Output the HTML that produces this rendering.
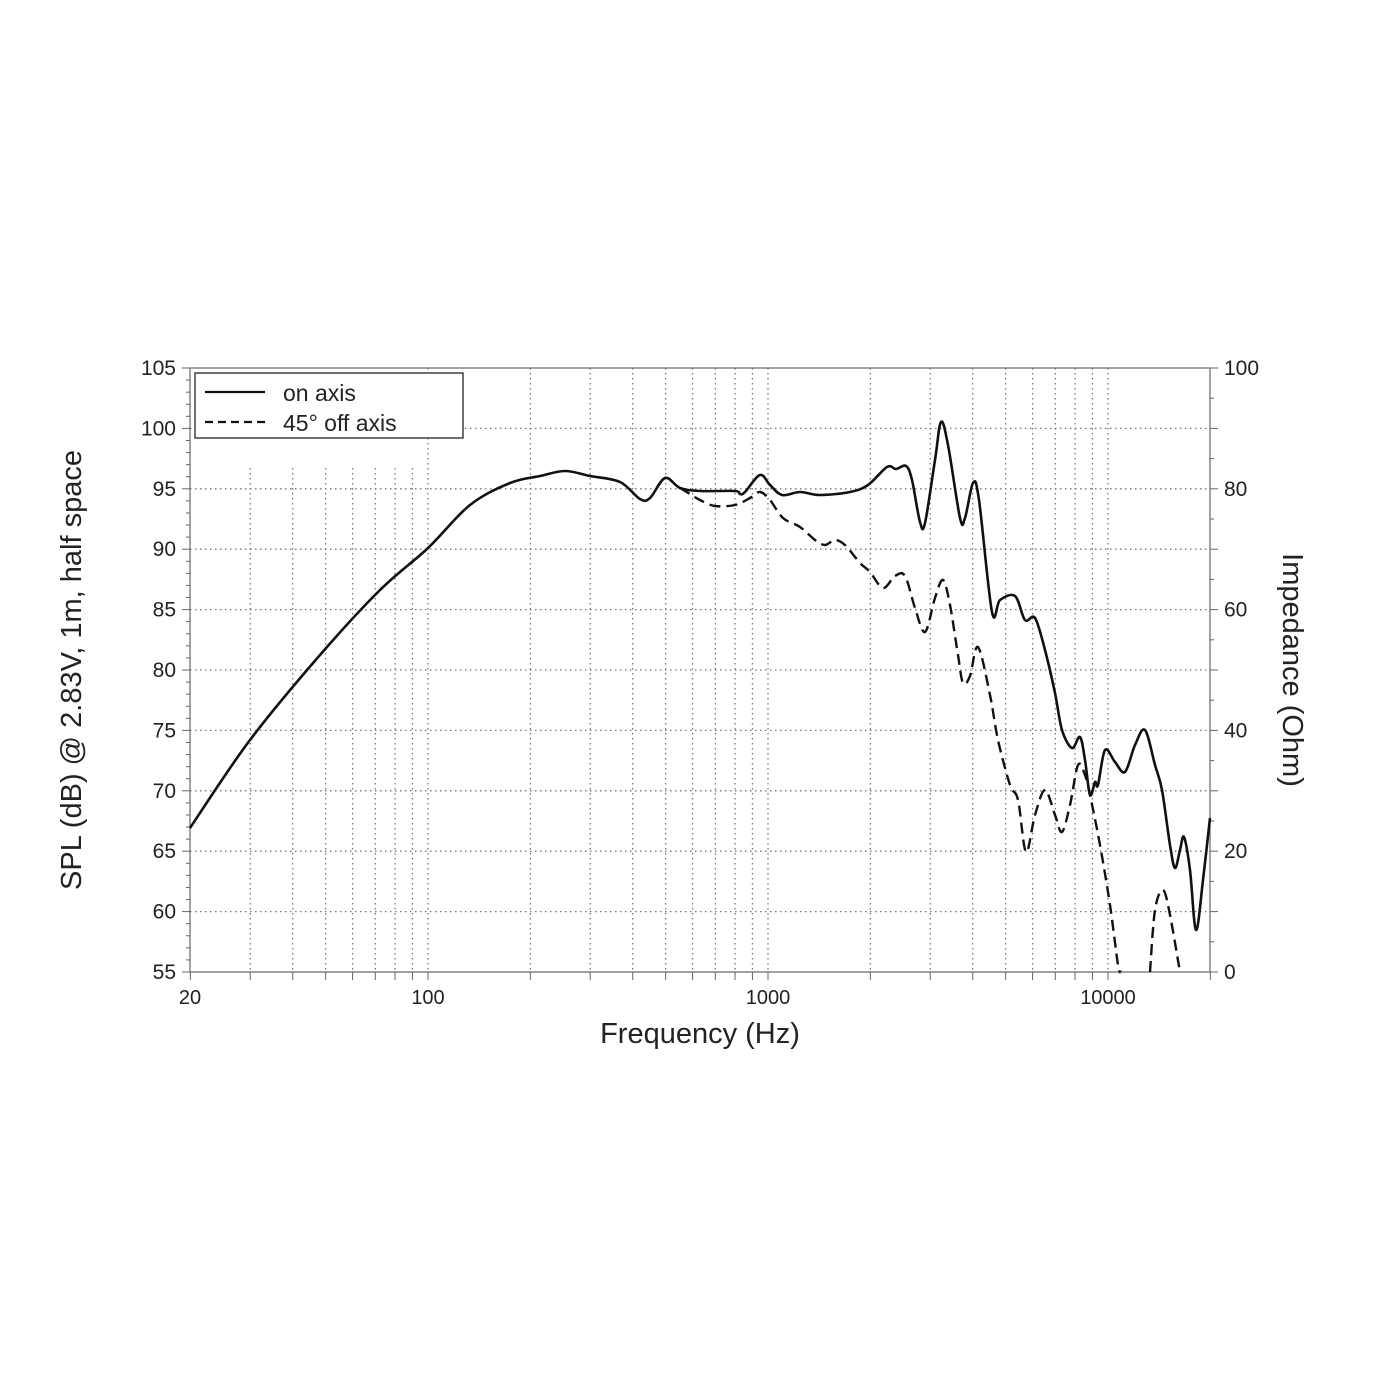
<!DOCTYPE html>
<html><head><meta charset="utf-8"><style>
html,body{margin:0;padding:0;background:#fff;width:1400px;height:1400px;overflow:hidden}
text{font-family:"Liberation Sans",sans-serif;fill:#222}
</style></head><body>
<svg id="s" width="1400" height="1400" viewBox="0 0 1400 1400" xmlns="http://www.w3.org/2000/svg">
<rect width="1400" height="1400" fill="#fff"/>
<g id="grid"></g>
<rect x="190" y="368" width="1020" height="604" fill="none" stroke="#666" stroke-width="1.2"/>
<g id="ticks"></g>
<g id="curves"></g>
<rect x="195" y="373" width="268" height="65" fill="#fff" stroke="#222" stroke-width="1.3"/>
<line x1="205" y1="392" x2="265" y2="392" stroke="#111" stroke-width="2.2"/>
<line x1="205" y1="422" x2="265" y2="422" stroke="#111" stroke-width="2.2" stroke-dasharray="8,5"/>
<text x="283" y="401" font-size="23">on axis</text>
<text x="283" y="431" font-size="23">45° off axis</text>
<g font-size="21" text-anchor="end" id="ylab"></g>
<g font-size="21" text-anchor="start" id="rlab"></g>
<text x="190" y="1004" font-size="20" text-anchor="middle">20</text>
<text x="428" y="1004" font-size="20" text-anchor="middle">100</text>
<text x="768" y="1004" font-size="20" text-anchor="middle">1000</text>
<text x="1108" y="1004" font-size="20" text-anchor="middle">10000</text>
<text x="700" y="1043" font-size="29" text-anchor="middle">Frequency (Hz)</text>
<text transform="translate(81,670) rotate(-90)" font-size="29" text-anchor="middle">SPL (dB) @ 2.83V, 1m, half space</text>
<text transform="translate(1283,670) rotate(90)" font-size="29" text-anchor="middle">Impedance (Ohm)</text>
</svg>
<script>
var NS="http://www.w3.org/2000/svg";
function el(p,t,a){var e=document.createElementNS(NS,t);for(var k in a)e.setAttribute(k,a[k]);p.appendChild(e);return e;}
var g=document.getElementById('grid'),tk=document.getElementById('ticks');
function X(f){return 428+340*Math.log10(f/100);}
function Y(d){return 368+(105-d)*604/50;}
var dot={stroke:"#777","stroke-width":1.3,"stroke-dasharray":"1.5,3.5"};
for(var d=60;d<=100;d+=5){var a=Object.assign({x1:190,x2:1210,y1:Y(d),y2:Y(d)},dot);el(g,'line',a);}
[30,40,50,60,70,80,90].forEach(function(f){el(g,'line',Object.assign({x1:X(f),x2:X(f),y1:468,y2:972},dot));});
[100,200,300,400,500,600,700,800,900,1000,2000,3000,4000,5000,6000,7000,8000,9000,10000].forEach(function(f){el(g,'line',Object.assign({x1:X(f),x2:X(f),y1:368,y2:972},dot));});
for(var d=55;d<=105;d++){var L=(d%5==0)?8:4;el(tk,'line',{x1:190,x2:190-L,y1:Y(d),y2:Y(d),stroke:"#666","stroke-width":1});}
for(var i=0;i<=20;i++){var y=368+i*30.2;var L=(i%2==0)?8:4;el(tk,'line',{x1:1210,x2:1210+L,y1:y,y2:y,stroke:"#666","stroke-width":1});}
[20,30,40,50,60,70,80,90,100,200,300,400,500,600,700,800,900,1000,2000,3000,4000,5000,6000,7000,8000,9000,10000,20000].forEach(function(f){el(tk,'line',{x1:X(f),x2:X(f),y1:972,y2:980,stroke:"#666","stroke-width":1});});
var yl=document.getElementById('ylab'),rl=document.getElementById('rlab');
for(var d=55;d<=105;d+=5){var t=el(yl,'text',{x:176,y:Y(d)+7});t.textContent=d;}
for(var o=0;o<=100;o+=20){var t=el(rl,'text',{x:1224,y:972-o*6.04+7});t.textContent=o;}
function path(p){var s="M"+p[0][0]+","+p[0][1];for(var i=0;i<p.length-1;i++){var p0=p[i-1]||p[i],p1=p[i],p2=p[i+1],p3=p[i+2]||p2;
var c1x=p1[0]+(p2[0]-p0[0])/6,c1y=p1[1]+(p2[1]-p0[1])/6,c2x=p2[0]-(p3[0]-p1[0])/6,c2y=p2[1]-(p3[1]-p1[1])/6;
s+=" C"+c1x.toFixed(1)+","+c1y.toFixed(1)+" "+c2x.toFixed(1)+","+c2y.toFixed(1)+" "+p2[0]+","+p2[1];}return s;}
var on=[[190,828],[250,740],[320,655],[380,590],[428,548],[470,505],[510,483],[540,476],[565,471],[590,476],[620,482],[640,499],[650,498],[665,478],[680,488],[700,491],[735,491],[740,494],[745,492],[760,475],[770,485],[782,495],[800,492],[820,495],[850,492],[868,485],[887,467],[896,469],[906,466],[912,480],[920,522],[925,523],[935,460],[941,422],[948,445],[960,518],[965,518],[973,483],[979,500],[992,612],[1000,600],[1015,596],[1025,620],[1035,618],[1045,650],[1055,693],[1062,730],[1072,748],[1080,737],[1085,760],[1090,795],[1095,782],[1098,785],[1105,750],[1115,762],[1125,772],[1135,745],[1145,730],[1155,765],[1162,790],[1170,845],[1175,868],[1180,850],[1184,837],[1190,870],[1196,930],[1203,880],[1210,818]];
var off=[[680,488],[690,494],[700,500],[715,506],[735,505],[750,498],[760,492],[770,500],[783,518],[800,527],[815,540],[825,545],[835,540],[845,545],[860,563],[870,572],[883,588],[895,576],[905,576],[915,608],[925,632],[935,598],[943,580],[950,605],[958,655],[963,683],[970,676],[978,647],[990,695],[998,740],[1010,785],[1018,800],[1026,852],[1035,815],[1045,790],[1055,815],[1062,832],[1070,805],[1078,765],[1085,775],[1090,795],[1100,845],[1110,905],[1118,965],[1121,972]];
var off2=[[1150,972],[1155,910],[1163,890],[1170,915],[1180,972]];
var c=document.getElementById('curves');
el(c,'path',{d:path(on),fill:"none",stroke:"#111","stroke-width":2.6,"stroke-linejoin":"round"});
el(c,'path',{d:path(off),fill:"none",stroke:"#111","stroke-width":2.4,"stroke-dasharray":"11,6"});
el(c,'path',{d:path(off2),fill:"none",stroke:"#111","stroke-width":2.4,"stroke-dasharray":"11,6"});
</script>
</body></html>
